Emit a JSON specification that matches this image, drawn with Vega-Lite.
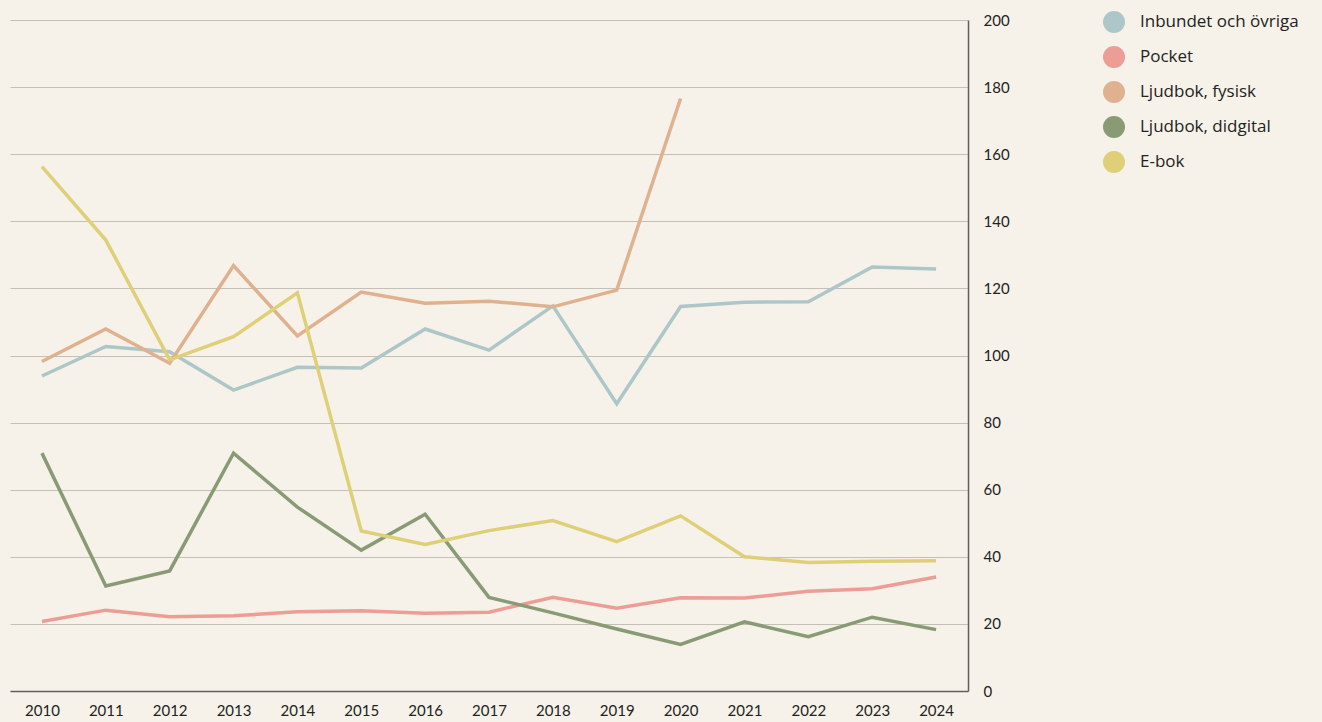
{
  "$schema": "https://vega.github.io/schema/vega-lite/v6.json",
  "width": 958,
  "height": 671,
  "autosize": {"type": "none"},
  "padding": {"left": 10, "top": 20, "right": 354, "bottom": 31},
  "background": "#f6f2e9",
  "config": {
    "view": {"stroke": null},
    "font": "Lato",
    "axis": {"labelFont": "Lato", "labelColor": "#222222"},
    "legend": {"labelFont": "Open Sans"}
  },
  "data": {"values": [
    {"year": "2010", "typ": "Inbundet och övriga", "value": 93.9},
    {"year": "2011", "typ": "Inbundet och övriga", "value": 102.7},
    {"year": "2012", "typ": "Inbundet och övriga", "value": 101.1},
    {"year": "2013", "typ": "Inbundet och övriga", "value": 89.7},
    {"year": "2014", "typ": "Inbundet och övriga", "value": 96.5},
    {"year": "2015", "typ": "Inbundet och övriga", "value": 96.3},
    {"year": "2016", "typ": "Inbundet och övriga", "value": 107.9},
    {"year": "2017", "typ": "Inbundet och övriga", "value": 101.6},
    {"year": "2018", "typ": "Inbundet och övriga", "value": 114.8},
    {"year": "2019", "typ": "Inbundet och övriga", "value": 85.6},
    {"year": "2020", "typ": "Inbundet och övriga", "value": 114.6},
    {"year": "2021", "typ": "Inbundet och övriga", "value": 115.9},
    {"year": "2022", "typ": "Inbundet och övriga", "value": 116.0},
    {"year": "2023", "typ": "Inbundet och övriga", "value": 126.4},
    {"year": "2024", "typ": "Inbundet och övriga", "value": 125.8},
    {"year": "2010", "typ": "Pocket", "value": 20.7},
    {"year": "2011", "typ": "Pocket", "value": 24.1},
    {"year": "2012", "typ": "Pocket", "value": 22.1},
    {"year": "2013", "typ": "Pocket", "value": 22.4},
    {"year": "2014", "typ": "Pocket", "value": 23.6},
    {"year": "2015", "typ": "Pocket", "value": 23.9},
    {"year": "2016", "typ": "Pocket", "value": 23.2},
    {"year": "2017", "typ": "Pocket", "value": 23.5},
    {"year": "2018", "typ": "Pocket", "value": 27.9},
    {"year": "2019", "typ": "Pocket", "value": 24.7},
    {"year": "2020", "typ": "Pocket", "value": 27.8},
    {"year": "2021", "typ": "Pocket", "value": 27.7},
    {"year": "2022", "typ": "Pocket", "value": 29.7},
    {"year": "2023", "typ": "Pocket", "value": 30.5},
    {"year": "2024", "typ": "Pocket", "value": 34.0},
    {"year": "2010", "typ": "Ljudbok, fysisk", "value": 98.2},
    {"year": "2011", "typ": "Ljudbok, fysisk", "value": 107.9},
    {"year": "2012", "typ": "Ljudbok, fysisk", "value": 97.7},
    {"year": "2013", "typ": "Ljudbok, fysisk", "value": 126.8},
    {"year": "2014", "typ": "Ljudbok, fysisk", "value": 105.8},
    {"year": "2015", "typ": "Ljudbok, fysisk", "value": 118.9},
    {"year": "2016", "typ": "Ljudbok, fysisk", "value": 115.6},
    {"year": "2017", "typ": "Ljudbok, fysisk", "value": 116.2},
    {"year": "2018", "typ": "Ljudbok, fysisk", "value": 114.5},
    {"year": "2019", "typ": "Ljudbok, fysisk", "value": 119.5},
    {"year": "2020", "typ": "Ljudbok, fysisk", "value": 176.6},
    {"year": "2010", "typ": "Ljudbok, didgital", "value": 70.9},
    {"year": "2011", "typ": "Ljudbok, didgital", "value": 31.3},
    {"year": "2012", "typ": "Ljudbok, didgital", "value": 35.8},
    {"year": "2013", "typ": "Ljudbok, didgital", "value": 70.9},
    {"year": "2014", "typ": "Ljudbok, didgital", "value": 54.8},
    {"year": "2015", "typ": "Ljudbok, didgital", "value": 42.0},
    {"year": "2016", "typ": "Ljudbok, didgital", "value": 52.7},
    {"year": "2017", "typ": "Ljudbok, didgital", "value": 27.9},
    {"year": "2018", "typ": "Ljudbok, didgital", "value": 23.3},
    {"year": "2019", "typ": "Ljudbok, didgital", "value": 18.5},
    {"year": "2020", "typ": "Ljudbok, didgital", "value": 13.9},
    {"year": "2021", "typ": "Ljudbok, didgital", "value": 20.6},
    {"year": "2022", "typ": "Ljudbok, didgital", "value": 16.2},
    {"year": "2023", "typ": "Ljudbok, didgital", "value": 22.0},
    {"year": "2024", "typ": "Ljudbok, didgital", "value": 18.3},
    {"year": "2010", "typ": "E-bok", "value": 156.3},
    {"year": "2011", "typ": "E-bok", "value": 134.4},
    {"year": "2012", "typ": "E-bok", "value": 98.7},
    {"year": "2013", "typ": "E-bok", "value": 105.6},
    {"year": "2014", "typ": "E-bok", "value": 118.7},
    {"year": "2015", "typ": "E-bok", "value": 47.7},
    {"year": "2016", "typ": "E-bok", "value": 43.7},
    {"year": "2017", "typ": "E-bok", "value": 47.8},
    {"year": "2018", "typ": "E-bok", "value": 50.8},
    {"year": "2019", "typ": "E-bok", "value": 44.5},
    {"year": "2020", "typ": "E-bok", "value": 52.2},
    {"year": "2021", "typ": "E-bok", "value": 40.0},
    {"year": "2022", "typ": "E-bok", "value": 38.3},
    {"year": "2023", "typ": "E-bok", "value": 38.7},
    {"year": "2024", "typ": "E-bok", "value": 38.8}
  ]},
  "mark": {"type": "line", "strokeWidth": 3.5, "strokeJoin": "miter", "strokeCap": "butt"},
  "encoding": {
    "x": {
      "field": "year", "type": "ordinal",
      "scale": {"type": "point", "padding": 0.5},
      "axis": {"title": null, "labelAngle": 0, "labelFontSize": 15, "labelPadding": 12, "ticks": false, "domainColor": "#5f5f5f", "domainWidth": 1.5, "grid": false}
    },
    "y": {
      "field": "value", "type": "quantitative",
      "scale": {"domain": [0, 200], "nice": false},
      "axis": {"title": null, "orient": "right", "values": [0, 20, 40, 60, 80, 100, 120, 140, 160, 180, 200], "labelFontSize": 15, "labelPadding": 15, "ticks": false, "domainColor": "#5f5f5f", "domainWidth": 1.5, "grid": true, "gridColor": "#c4c0b6", "gridWidth": 1.2}
    },
    "color": {
      "field": "typ", "type": "nominal",
      "scale": {
        "domain": ["Inbundet och övriga", "Pocket", "Ljudbok, fysisk", "Ljudbok, didgital", "E-bok"],
        "range": ["#adc6c8", "#ec9d95", "#e0b18e", "#889b74", "#dfcf78"]
      },
      "legend": {
        "title": null, "orient": "none", "legendX": 1093, "legendY": -9,
        "symbolType": "circle", "symbolSize": 484, "symbolStrokeWidth": 0, "symbolOpacity": 1,
        "labelFontSize": 17, "labelColor": "#222222", "labelOffset": 15, "rowPadding": 13,
        "labelLimit": 300,
        "encode": {"symbols": {"update": {"fill": {"scale": "color", "field": "value"}, "fillOpacity": {"value": 1}}}}
      }
    }
  }
}
